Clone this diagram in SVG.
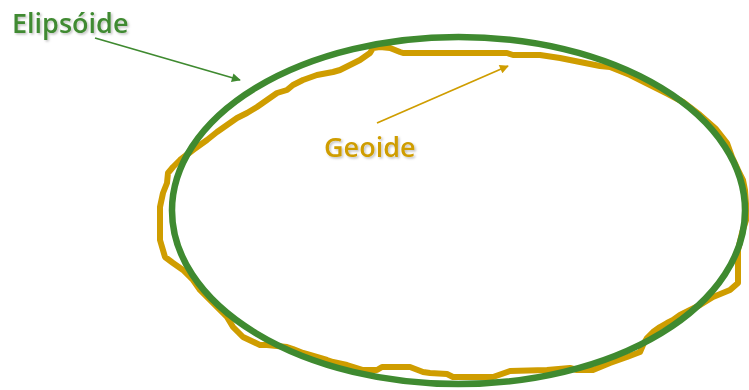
<svg xmlns="http://www.w3.org/2000/svg" width="749" height="390" viewBox="0 0 749 390">
<style>
.lbl{font-family:"Open Sans","DejaVu Sans",sans-serif;font-size:27px;font-weight:600;}
.green{fill:#3f8a30;}
.gold{fill:#cf9d00;}
</style>
<defs>
<filter id="sh" x="-10%" y="-10%" width="130%" height="140%">
<feDropShadow dx="1.5" dy="1.5" stdDeviation="0.8" flood-color="#000" flood-opacity="0.25"/>
</filter>
<marker id="ag" viewBox="0 0 10 10" refX="9" refY="5" markerWidth="11" markerHeight="9" orient="auto" markerUnits="userSpaceOnUse">
<path d="M0,0 L10,5 L0,10 Z" fill="#3f8a30"/>
</marker>
<marker id="ay" viewBox="0 0 10 10" refX="9" refY="5" markerWidth="11" markerHeight="9" orient="auto" markerUnits="userSpaceOnUse">
<path d="M0,0 L10,5 L0,10 Z" fill="#cf9d00"/>
</marker>
</defs>
<g id="geoide-shape">
<path fill="none" stroke="#cf9d00" stroke-width="6" stroke-linejoin="round" d="M173,167 L180,160 193,150 207,140 217,132 227,125 237,118 247,113 257,107 267,100 277,93 287,90 293,85 303,80 317,75 333,72 340,70 360,60 370,53 373,48 380,47 390,48 400,52 403,53 507,53 513,55 540,55 560,58 600,66 610,67 630,75 650,85 668,94 683,102 700,115 716,129 727,143 732,157 738,170 743,180 745,190 747,217 742,233 738,250 738,283 730,290 713,297 700,305 690,310 680,315 673,320 667,323 660,327 653,332 647,338 643,345 640,352 627,357 610,363 593,370 577,370 570,368 547,370 510,371 493,377 480,377 453,377 447,374 430,373 423,372 410,367 382,367 377,370 363,370 347,365 333,362 327,360 310,355 303,353 293,349 287,347 267,345 260,345 243,337 233,327 227,317 213,303 200,290 193,280 183,270 173,263 165,257 160,240 160,207 163,193 167,183 168,173 Z"/>
</g>
<g id="elipsoide-shape">
<ellipse cx="458.5" cy="210.5" rx="286.5" ry="173.5" fill="none" stroke="#3f8a30" stroke-width="6.5"/>
</g>
<g id="connectors">
<line x1="95" y1="38" x2="240" y2="80" stroke="#3f8a30" stroke-width="1.8" marker-end="url(#ag)"/>
<line x1="377" y1="123" x2="508" y2="66" stroke="#cf9d00" stroke-width="1.8" marker-end="url(#ay)"/>
</g>
<g id="label-elipsoide">
<text class="lbl green" x="12" y="33" filter="url(#sh)">Elipsóide</text>
</g>
<g id="label-geoide">
<text class="lbl gold" x="324" y="157" filter="url(#sh)">Geoide</text>
</g>
</svg>
